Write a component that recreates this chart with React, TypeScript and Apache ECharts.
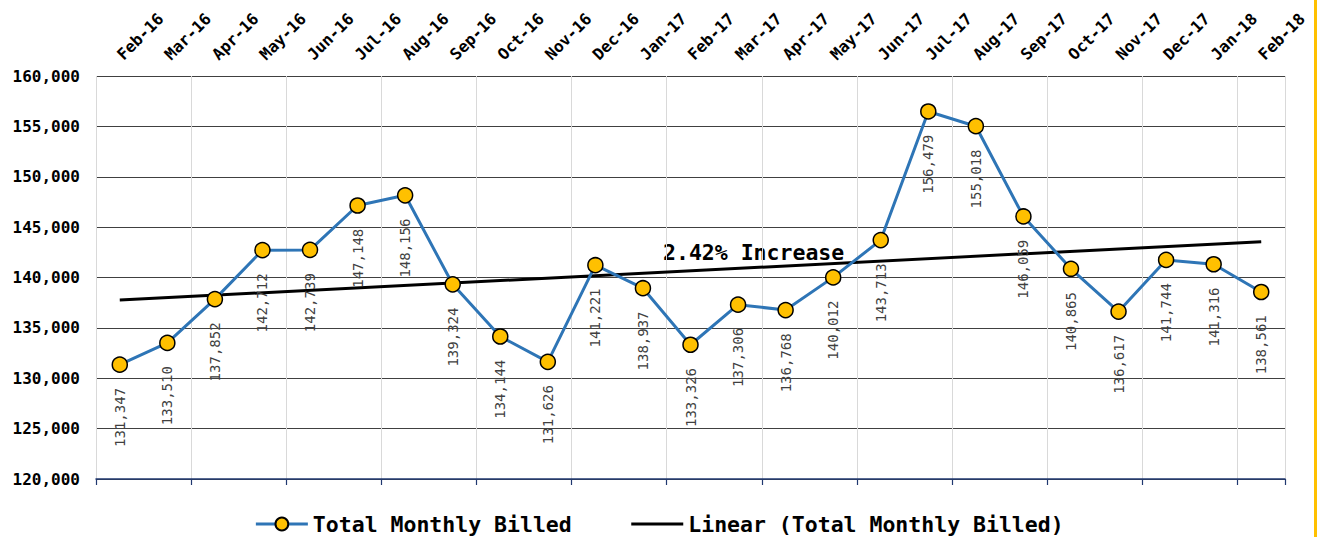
import React, { useEffect, useRef } from "react";
import * as echarts from "echarts";

const categories = [
  "Feb-16", "Mar-16", "Apr-16", "May-16", "Jun-16", "Jul-16", "Aug-16", "Sep-16",
  "Oct-16", "Nov-16", "Dec-16", "Jan-17", "Feb-17", "Mar-17", "Apr-17", "May-17",
  "Jun-17", "Jul-17", "Aug-17", "Sep-17", "Oct-17", "Nov-17", "Dec-17", "Jan-18", "Feb-18",
];
const totalMonthlyBilled = [
  131347, 133510, 137852, 142712, 142739, 147148, 148156, 139324,
  134144, 131626, 141221, 138937, 133326, 137306, 136768, 140012,
  143713, 156479, 155018, 146059, 140865, 136617, 141744, 141316, 138561,
];
const trendEndpoints = [137764, 143556];
const yMin = 120000;
const yMax = 160000;
const yInterval = 5000;
const annotationText = "2.42% Increase";

const MONO = "'DejaVu Sans Mono', 'Liberation Mono', monospace";
const fmt = (v: number) => v.toLocaleString("en-US");

export default function App() {
  const ref = useRef<HTMLDivElement>(null);
  useEffect(() => {
    if (!ref.current) return;
    const chart = echarts.init(ref.current, null, { renderer: "svg" });
    const last = categories.length - 1;
    chart.setOption({
      animation: false,
      backgroundColor: "#ffffff",
      grid: { left: 96, right: 33, top: 76, bottom: 58, containLabel: false },
      xAxis: [
        {
          type: "category",
          data: categories,
          position: "bottom",
          boundaryGap: true,
          axisLine: { show: true, lineStyle: { color: "#203870", width: 1.5 } },
          axisTick: { show: true, length: 6, inside: false, lineStyle: { color: "#203870", width: 1.2 } },
          axisLabel: { show: false },
          splitLine: { show: true, lineStyle: { color: "#d9d9d9", width: 1 } },
        },
        {
          type: "category",
          data: categories,
          position: "top",
          boundaryGap: true,
          axisLine: { show: false },
          axisTick: { show: false },
          splitLine: { show: false },
          axisLabel: {
            show: true,
            interval: 0,
            rotate: -45,
            margin: 19,
            fontFamily: MONO,
            fontWeight: "bold",
            fontSize: 16,
            color: "#000000",
          },
        },
      ],
      yAxis: {
        type: "value",
        min: yMin,
        max: yMax,
        interval: yInterval,
        axisLine: { show: false },
        axisTick: { show: false },
        axisLabel: {
          margin: 16,
          fontFamily: MONO,
          fontWeight: "bold",
          fontSize: 16,
          color: "#000000",
          formatter: (v: number) => fmt(v),
        },
        splitLine: { show: true, lineStyle: { color: "#404040", width: 1 } },
      },
      legend: {
        top: 508,
        left: "center",
        itemWidth: 52,
        itemHeight: 16,
        itemGap: 58,
        lineStyle: { width: 3 },
        textStyle: { fontFamily: MONO, fontWeight: "bold", fontSize: 21.5, color: "#000000" },
        data: ["Total Monthly Billed", "Linear (Total Monthly Billed)"],
      },
      graphic: [
        {
          type: "text",
          left: 663,
          top: 241,
          style: {
            text: annotationText,
            fontFamily: MONO,
            fontWeight: "bold",
            fontSize: 21.5,
            fill: "#000000",
          },
        },
        {
          type: "rect",
          shape: { x: 1314, y: 0, width: 3, height: 537 },
          style: { fill: "#FFC000" },
        },
      ],
      series: [
        {
          name: "Linear (Total Monthly Billed)",
          type: "line",
          xAxisIndex: 0,
          symbol: "none",
          z: 2,
          lineStyle: { color: "#000000", width: 3 },
          itemStyle: { color: "rgba(0,0,0,0)", borderColor: "rgba(0,0,0,0)" },
          data: [
            [categories[0], trendEndpoints[0]],
            [categories[last], trendEndpoints[1]],
          ],
        },
        {
          name: "Total Monthly Billed",
          type: "line",
          xAxisIndex: 0,
          z: 3,
          symbol: "circle",
          symbolSize: 15,
          lineStyle: { color: "#2E75B6", width: 3 },
          itemStyle: { color: "#FFC000", borderColor: "#000000", borderWidth: 1.5 },
          label: {
            show: true,
            position: "bottom",
            distance: 15,
            rotate: 90,
            align: "right",
            verticalAlign: "middle",
            fontFamily: MONO,
            fontSize: 14,
            color: "#404040",
            formatter: (p: any) => fmt(p.value),
          },
          data: totalMonthlyBilled,
        },
      ],
    });
    return () => chart.dispose();
  }, []);
  return (
    <div
      ref={ref}
      style={{ position: "fixed", left: 0, top: 0, width: 1318, height: 537, background: "#fff" }}
    />
  );
}
